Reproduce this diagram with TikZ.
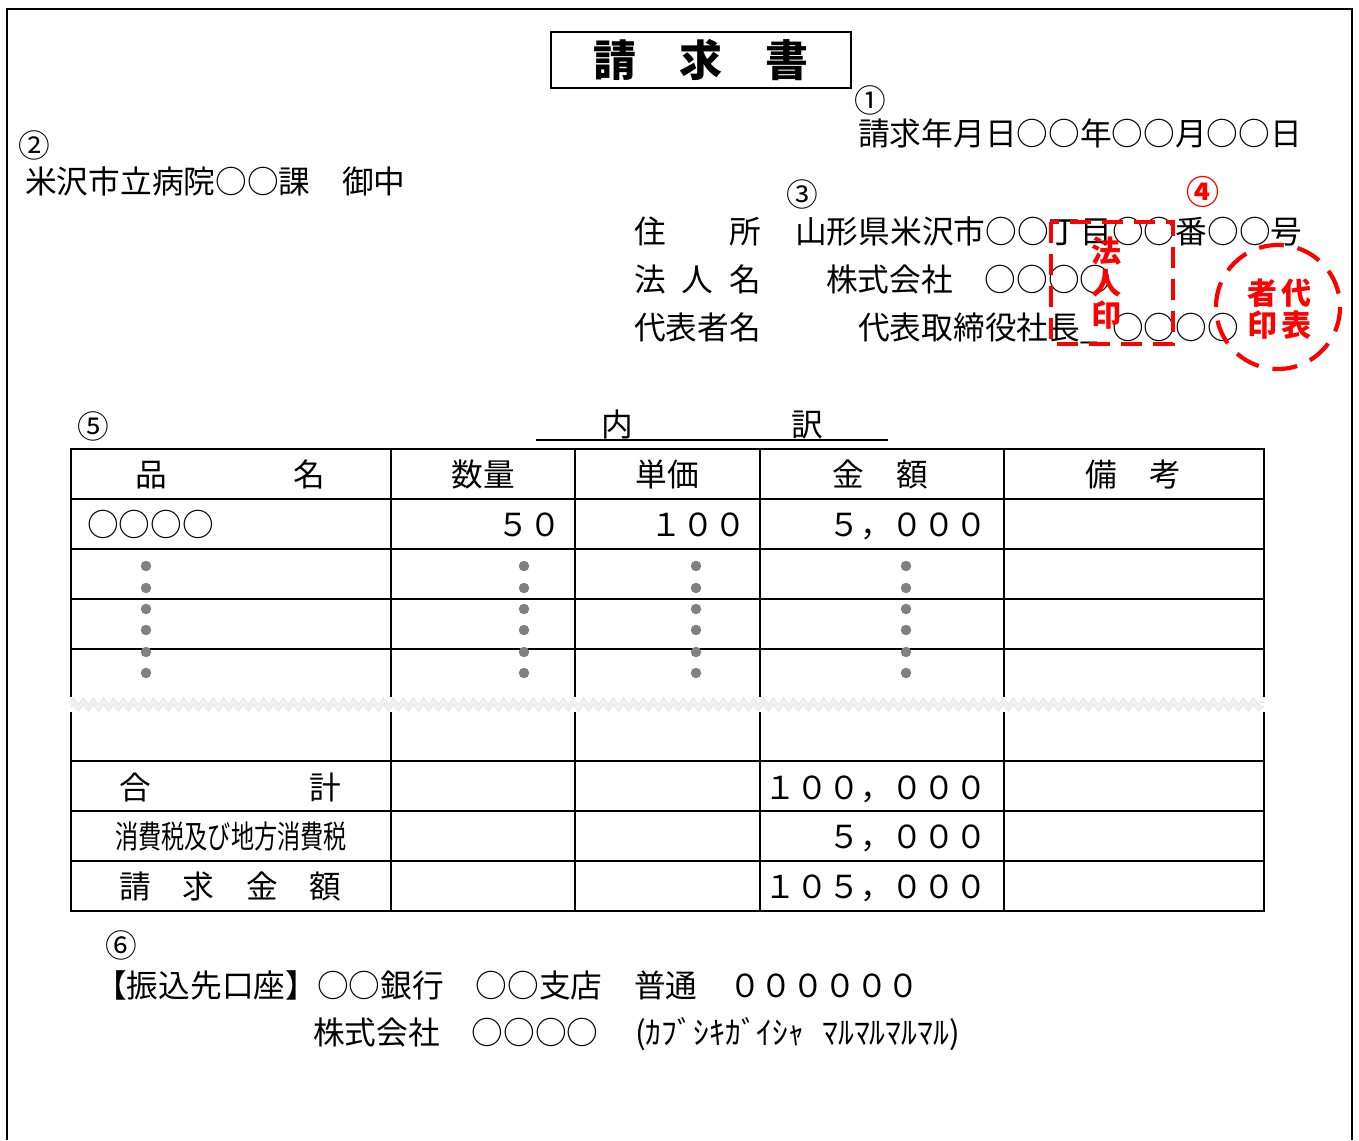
\documentclass[tikz,border=0pt]{standalone}
\usepackage{fontspec}
\usepackage{graphicx}
\usetikzlibrary{decorations.pathmorphing}
\newfontfamily\jp{Noto Sans CJK JP}
\definecolor{stampred}{RGB}{255,0,0}
\definecolor{dotgray}{RGB}{128,128,128}
\begin{document}
\begin{tikzpicture}[x=1pt,y=-1pt,
  txt/.style={inner sep=0pt, font=\jp\fontsize{31.7}{38}\selectfont, text height=27.9pt, text depth=3.8pt},
  lt/.style={txt, anchor=west},
  rt/.style={txt, anchor=east},
  ct/.style={txt, anchor=center},
  stamptxt/.style={inner sep=0pt, font=\jp\bfseries\fontsize{30}{36}\selectfont, text=stampred, text height=26.4pt, text depth=3.6pt, anchor=center},
  tbl/.style={line width=2.6pt, line cap=rect},
  dotmark/.style={circle, fill=dotgray, inner sep=0pt, minimum size=10.5pt},
  stampline/.style={draw=stampred, line width=4.2pt, dash pattern=on 21pt off 11pt}
]
\useasboundingbox (0,0) rectangle (1359,1140);
% page border
\draw[line width=2.2pt] (7,1140) -- (7,9) -- (1352,9) -- (1352,1140);

% title
\node[draw, line width=2.4pt, minimum width=300pt, minimum height=56pt, inner sep=0pt,
      font=\jp\bfseries\fontsize{43}{50}\selectfont] (title) at (701,60) {請　求　書};

% header info
\node[ct] (n1) at (870,100) {①};
\node[lt] (date) at (858,133) {請求年月日○○年○○月○○日};
\node[ct] (n2) at (34,145) {②};
\node[lt] (dest) at (25,181) {米沢市立病院○○課　御中};
\node[ct] (n3) at (802,194) {③};
\node[lt] (l1) at (634,231) {住　　所};
\node[lt] (addr) at (795,231) {山形県米沢市○○丁目○○番○○号};
\node[lt] (l2) at (634,279) {法\hspace{16pt}人\hspace{16pt}名};
\node[lt] (corp) at (826,279) {株式会社　○○○○};
\node[lt] (l3) at (634,327) {代表者名};
\node[lt] (rep) at (858,327) {代表取締役社長\_};
\node[lt] (repname) at (1112,327) {○○○○};

% stamps
\draw[stampline] (1051,222) rectangle (1173,344);
\node[stamptxt] (s1) at (1106,251) {法};
\node[stamptxt] (s2) at (1106,283) {人};
\node[stamptxt] (s3) at (1106,315) {印};
\node[stamptxt, font=\jp\bfseries\fontsize{33}{36}\selectfont] (n4) at (1203,193) {④};
\draw[stampline, dash pattern=on 25pt off 14pt] (1278,307) circle[radius=62];
\node[stamptxt] (s4) at (1279.5,293) {者\hspace{4pt}代};
\node[stamptxt] (s5) at (1279.5,325) {印\hspace{4pt}表};

% breakdown title
\node[ct] (n5) at (93,426) {⑤};
\node[lt] (uchi) at (601,424) {内　　　　　訳};
\coordinate (ulA) at (536,440);
\coordinate (ulB) at (888,440);
\draw[line width=2pt] (ulA) -- (ulB);

% table lines
\foreach \yy in {449,499,549,599,649,761,811,861,911}
  \draw[tbl] (71,\yy) -- (1264,\yy);
\foreach \xx in {71,391,575,760,1004,1264} {
  \draw[line width=2.6pt] (\xx,449) -- (\xx,697);
  \draw[line width=2.6pt] (\xx,712) -- (\xx,911);
}
\draw[gray!16, line width=2.2pt, decorate, decoration={zigzag, segment length=10pt, amplitude=3.5pt}] (71,702) -- (1264,702);
\draw[gray!16, line width=2.2pt, decorate, decoration={zigzag, segment length=10pt, amplitude=3.5pt}] (71,707) -- (1264,707);

% header row
\node[lt] (h1) at (135,474) {品　　　　名};
\node[ct] (h2) at (483,474) {数量};
\node[ct] (h3) at (667,474) {単価};
\node[ct] (h4) at (880.5,474) {金　額};
\node[ct] (h5) at (1133.5,474) {備　考};

% first row
\node[lt] (r1a) at (87,524) {○○○○};
\node[rt] (r1b) at (561,524) {５０};
\node[rt] (r1c) at (746,524) {１００};
\node[rt] (r1d) at (987,524) {５，０００};

% dots
\foreach \xx in {146,524,696,906}
  \foreach \yy in {566,588,609,630,652,673}
    \node[dotmark] at (\xx,\yy) {};

% totals
\node[lt] (t1) at (119,787) {合　　　　　計};
\node[rt] (t1v) at (987,787) {１００，０００};
\node[ct] (t2) at (231,836) {\scalebox{0.73}[1]{消費税及び地方消費税}};
\node[rt] (t2v) at (987,836) {５，０００};
\node[lt] (t3) at (119,886) {請　求　金　額};
\node[rt] (t3v) at (987,886) {１０５，０００};

% bank
\node[ct] (n6) at (121,945) {⑥};
\node[lt] (bank) at (95,985) {【振込先口座】○○銀行　○○支店　普通　００００００};
\node[lt] (acct) at (313,1032) {株式会社　○○○○};
\node[lt] (kana) at (635,1032) {\scalebox{1.0}[1]{(ｶﾌﾞｼｷｶﾞｲｼｬ\hspace{18pt}ﾏﾙﾏﾙﾏﾙﾏﾙ)}};
\end{tikzpicture}
\end{document}
